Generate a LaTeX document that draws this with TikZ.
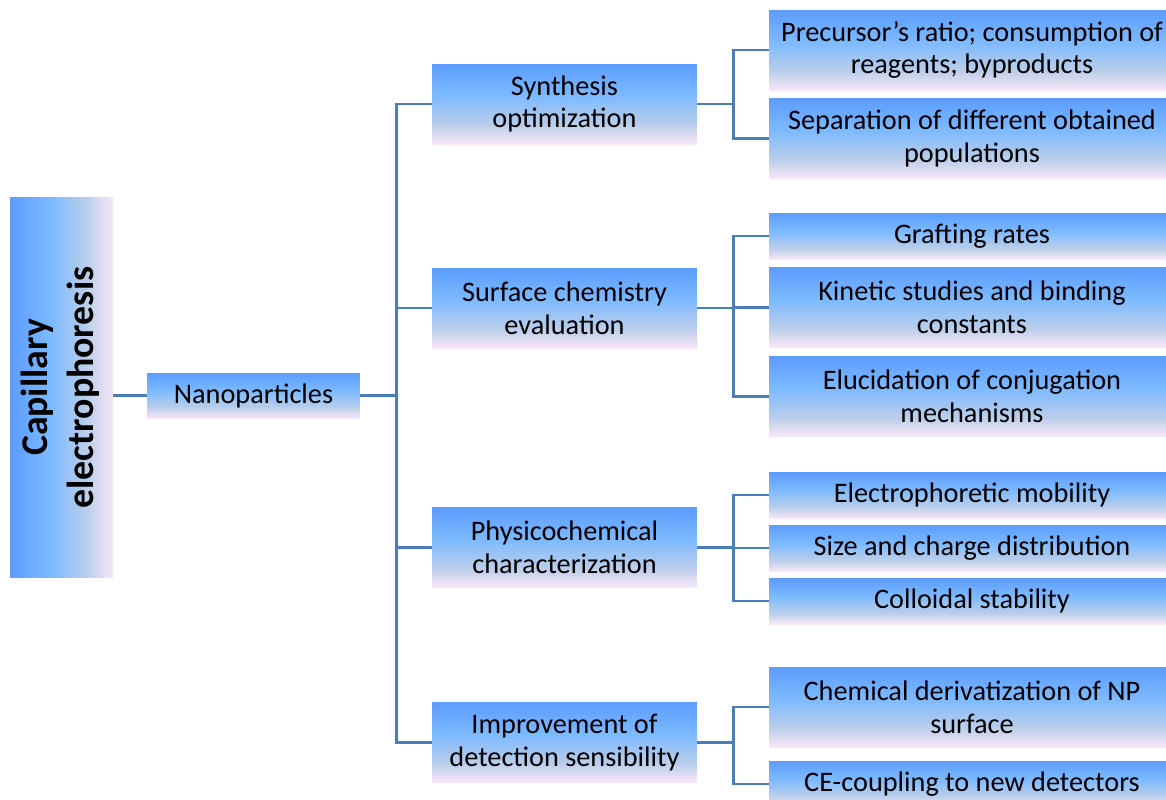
\documentclass[tikz,border=0pt]{standalone}
\usepackage{fontspec}
\setmainfont{Carlito}
\usetikzlibrary{positioning}

\definecolor{boxblue}{RGB}{92,156,255}
\definecolor{boxsky}{RGB}{125,186,255}
\definecolor{boxgrey}{RGB}{186,206,234}
\definecolor{boxpink}{RGB}{249,231,247}
\definecolor{linkblue}{RGB}{74,126,187}

\pgfdeclareverticalshading{boxfade}{100bp}{color(0bp)=(boxpink); color(25bp)=(boxpink); color(37bp)=(boxgrey); color(55bp)=(boxsky); color(75bp)=(boxblue); color(100bp)=(boxblue)}
\pgfdeclarehorizontalshading{sidefade}{100bp}{color(0bp)=(boxblue); color(25bp)=(boxblue); color(45bp)=(boxsky); color(62bp)=(boxgrey); color(75bp)=(boxpink); color(100bp)=(boxpink)}

\begin{document}
\begin{tikzpicture}[x=0.02cm, y=-0.02cm,
			item/.style={shade, shading=boxfade, inner sep=2pt, align=center, font=\fontsize{16.1}{18.7}\selectfont},
			mid/.style={item, minimum width=5.3cm, minimum height=1.6cm},
			leaf/.style={item, minimum width=8.12cm, minimum height=1.6cm},
			thin/.style={leaf, minimum height=0.92cm},
			link/.style={draw=linkblue, line width=1.4pt}]
			\useasboundingbox (0,0) rectangle (1166,799);
			
			\node[shade, shading=sidefade, minimum width=2.06cm, minimum height=7.62cm, inner sep=0pt](cap) at (61.5, 387.5) {\rotatebox{90}{\fontsize{21.5}{26}\selectfont\bfseries\begin{tabular}{@{}c@{}}Capillary\\electrophoresis\end{tabular}}};
			\node[item, minimum width=4.26cm, minimum height=0.9cm](nano) at (253.5, 395.5) {Nanoparticles};
			
			\node[mid](syn) at (564.5, 104) {Synthesis\\optimization};
			\node[mid](surf) at (564.5, 308) {Surface chemistry\\evaluation};
			\node[mid](phys) at (564.5, 547.5) {Physicochemical\\characterization};
			\node[mid](det) at (564.5, 742.5) {Improvement of\\detection sensibility};
			
			\node[leaf](prec) at (972, 50) {Precursor’s ratio; consumption of\\reagents; byproducts};
			\node[leaf](sep) at (972, 138.5) {Separation of different obtained\\populations};
			\node[thin](graft) at (972, 236) {Grafting rates};
			\node[leaf](kin) at (972, 307.5) {Kinetic studies and binding\\constants};
			\node[leaf](eluc) at (972, 396.5) {Elucidation of conjugation\\mechanisms};
			\node[thin](electro) at (972, 495) {Electrophoretic mobility};
			\node[thin](size) at (972, 548) {Size and charge distribution};
			\node[thin](coll) at (972, 601) {Colloidal stability};
			\node[leaf](chem) at (972, 707) {Chemical derivatization of NP\\surface};
			\node[thin](ce) at (972, 784) {CE-coupling to new detectors};
			
			\draw[link] (cap.east |- nano.west) -- (nano.west);
			\foreach \n in {syn, surf, phys, det}
				\draw[link] (nano.east) -- ++(36,0) |- (\n.west);
			
			\draw[link] (syn.east) -- ++(36,0) |- (prec.west);
			\draw[link] (syn.east) -- ++(36,0) |- (sep.west);
			\foreach \n in {graft, kin, eluc}
				\draw[link] (surf.east) -- ++(36,0) |- (\n.west);
			\foreach \n in {electro, size, coll}
				\draw[link] (phys.east) -- ++(36,0) |- (\n.west);
			\draw[link] (det.east) -- ++(36,0) |- (chem.west);
			\draw[link] (det.east) -- ++(36,0) |- (ce.west);
			
		\end{tikzpicture}
\end{document}
